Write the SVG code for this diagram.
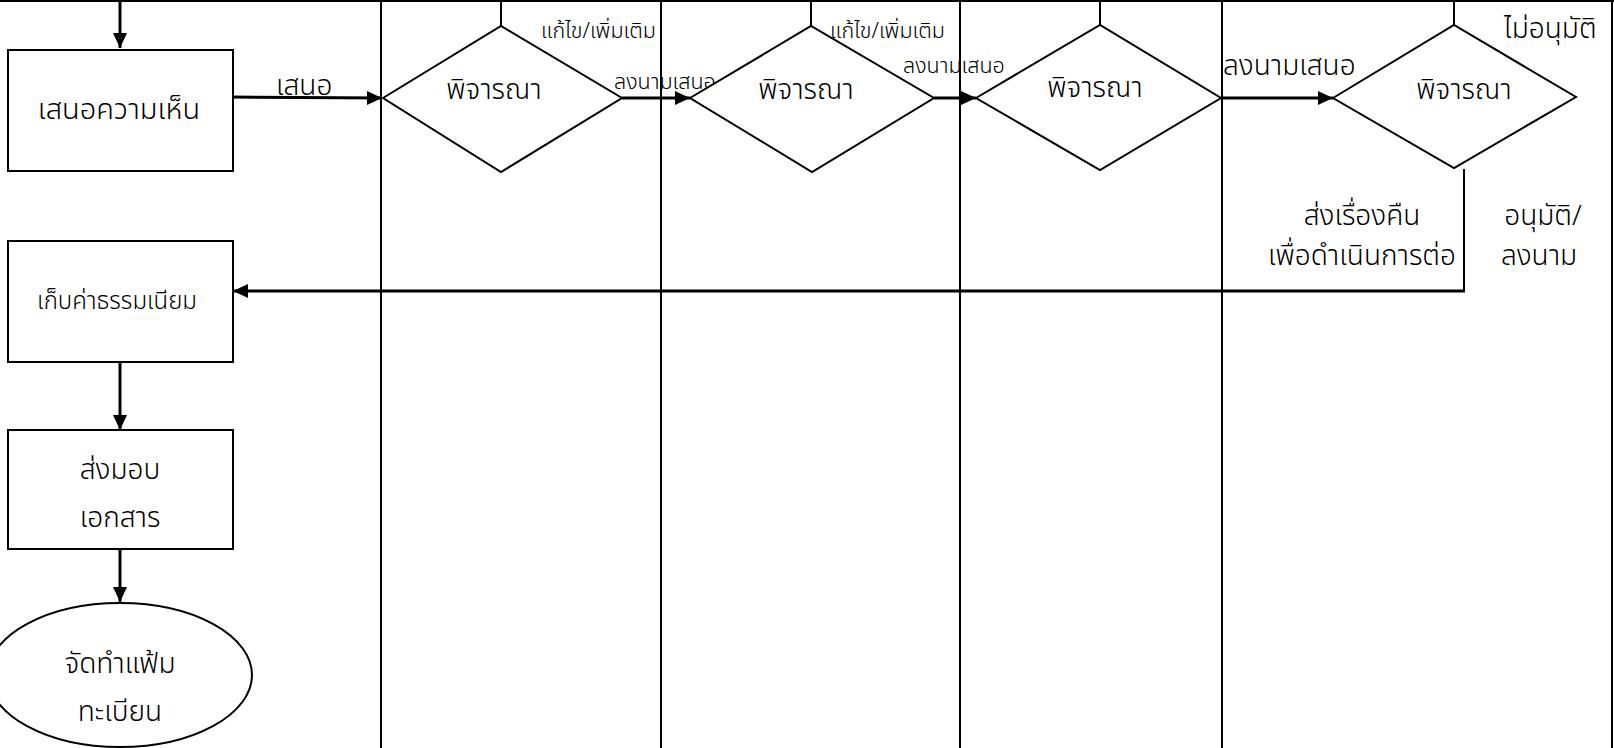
<svg xmlns="http://www.w3.org/2000/svg" width="1614" height="748" viewBox="0 0 1614 748">
<style>
  .shape { fill: #fff; stroke: #000; stroke-width: 2; }
  .lane { stroke: #000; stroke-width: 2; fill: none; }
  .conn { stroke: #000; stroke-width: 3; fill: none; }
  .thin { stroke: #000; stroke-width: 2; fill: none; }
  text { font-family: "Noto Sans Thai", "Noto Sans", "DejaVu Sans", sans-serif; font-weight: 300; fill: #000; }
  .t26 { font-size: 28px; }
  .t27 { font-size: 29px; }
  .t22 { font-size: 24px; }
  .t20 { font-size: 21.5px; }
  .mid { text-anchor: middle; }
</style>
<defs>
  <marker id="arr" markerUnits="userSpaceOnUse" markerWidth="16" markerHeight="16" refX="15" refY="8" orient="auto">
    <path d="M0,1 L15,8 L0,15 Z" fill="#000"/>
  </marker>
</defs>
<rect width="1614" height="748" fill="#fff"/>
<g id="frame">
  <line class="lane" x1="0" y1="1" x2="1614" y2="1"/>
  <line class="lane" x1="1612" y1="0" x2="1612" y2="748"/>
  <line class="lane" x1="381" y1="0" x2="381" y2="748"/>
  <line class="lane" x1="661" y1="0" x2="661" y2="748"/>
  <line class="lane" x1="960" y1="0" x2="960" y2="748"/>
  <line class="lane" x1="1222" y1="0" x2="1222" y2="748"/>
</g>
<g id="connectors">
  <line class="conn" x1="120" y1="0" x2="120" y2="48" marker-end="url(#arr)"/>
  <line class="thin" x1="501" y1="0" x2="501" y2="26"/>
  <line class="thin" x1="811" y1="0" x2="811" y2="26"/>
  <line class="thin" x1="1100" y1="0" x2="1100" y2="25"/>
  <line class="thin" x1="1454" y1="0" x2="1454" y2="25"/>
  <line class="conn" x1="232" y1="97" x2="382" y2="98" marker-end="url(#arr)"/>
  <line class="conn" x1="622" y1="98" x2="690" y2="98" marker-end="url(#arr)"/>
  <line class="conn" x1="934" y1="98" x2="976" y2="98" marker-end="url(#arr)"/>
  <line class="conn" x1="1221" y1="98" x2="1333" y2="98" marker-end="url(#arr)"/>
  <polyline class="thin" points="1464,169 1464,291"/>
  <line class="conn" x1="1465" y1="291" x2="233" y2="291" marker-end="url(#arr)"/>
  <line class="conn" x1="120" y1="362" x2="120" y2="430" marker-end="url(#arr)"/>
  <line class="conn" x1="120" y1="549" x2="120" y2="602" marker-end="url(#arr)"/>
  <text class="t26" x="276" y="95">เสนอ</text>
  <text class="t20" x="541" y="38">แก้ไข/เพิ่มเติม</text>
  <text class="t20" x="614" y="89">ลงนามเสนอ</text>
  <text class="t20" x="830" y="38">แก้ไข/เพิ่มเติม</text>
  <text class="t20" x="903" y="73">ลงนามเสนอ</text>
  <text class="t26" x="1223" y="75">ลงนามเสนอ</text>
  <text class="t26" x="1504" y="38">ไม่อนุมัติ</text>
  <text class="t26 mid" x="1362" y="225">ส่งเรื่องคืน</text>
  <text class="t26 mid" x="1362" y="265">เพื่อดำเนินการต่อ</text>
  <text class="t26 mid" x="1543" y="225">อนุมัติ/</text>
  <text class="t26 mid" x="1539" y="265">ลงนาม</text>
</g>
<g id="n-opinion">
  <rect class="shape" x="8" y="50" width="225" height="121"/>
  <text class="t27 mid" x="119" y="119">เสนอความเห็น</text>
</g>
<g id="n-d1">
  <polygon class="shape" points="383,98 501,26 622,98 501,172"/>
  <text class="t26 mid" x="494" y="99">พิจารณา</text>
</g>
<g id="n-d2">
  <polygon class="shape" points="690,98 811,26 934,98 812,172"/>
  <text class="t26 mid" x="806" y="99">พิจารณา</text>
</g>
<g id="n-d3">
  <polygon class="shape" points="976,98 1100,25 1221,98 1100,170"/>
  <text class="t26 mid" x="1095" y="97">พิจารณา</text>
</g>
<g id="n-d4">
  <polygon class="shape" points="1333,98 1454,25 1576,97 1454,168"/>
  <text class="t26 mid" x="1464" y="99">พิจารณา</text>
</g>
<g id="n-fee">
  <rect class="shape" x="8" y="241" width="225" height="121"/>
  <text class="t22 mid" x="117" y="309">เก็บค่าธรรมเนียม</text>
</g>
<g id="n-deliver">
  <rect class="shape" x="8" y="430" width="225" height="119"/>
  <text class="t26 mid" x="120" y="479">ส่งมอบ</text>
  <text class="t26 mid" x="120" y="527">เอกสาร</text>
</g>
<g id="n-file">
  <ellipse class="shape" cx="120" cy="675" rx="132" ry="72"/>
  <text class="t26 mid" x="120" y="673">จัดทำแฟ้ม</text>
  <text class="t26 mid" x="120" y="721">ทะเบียน</text>
</g>
</svg>
